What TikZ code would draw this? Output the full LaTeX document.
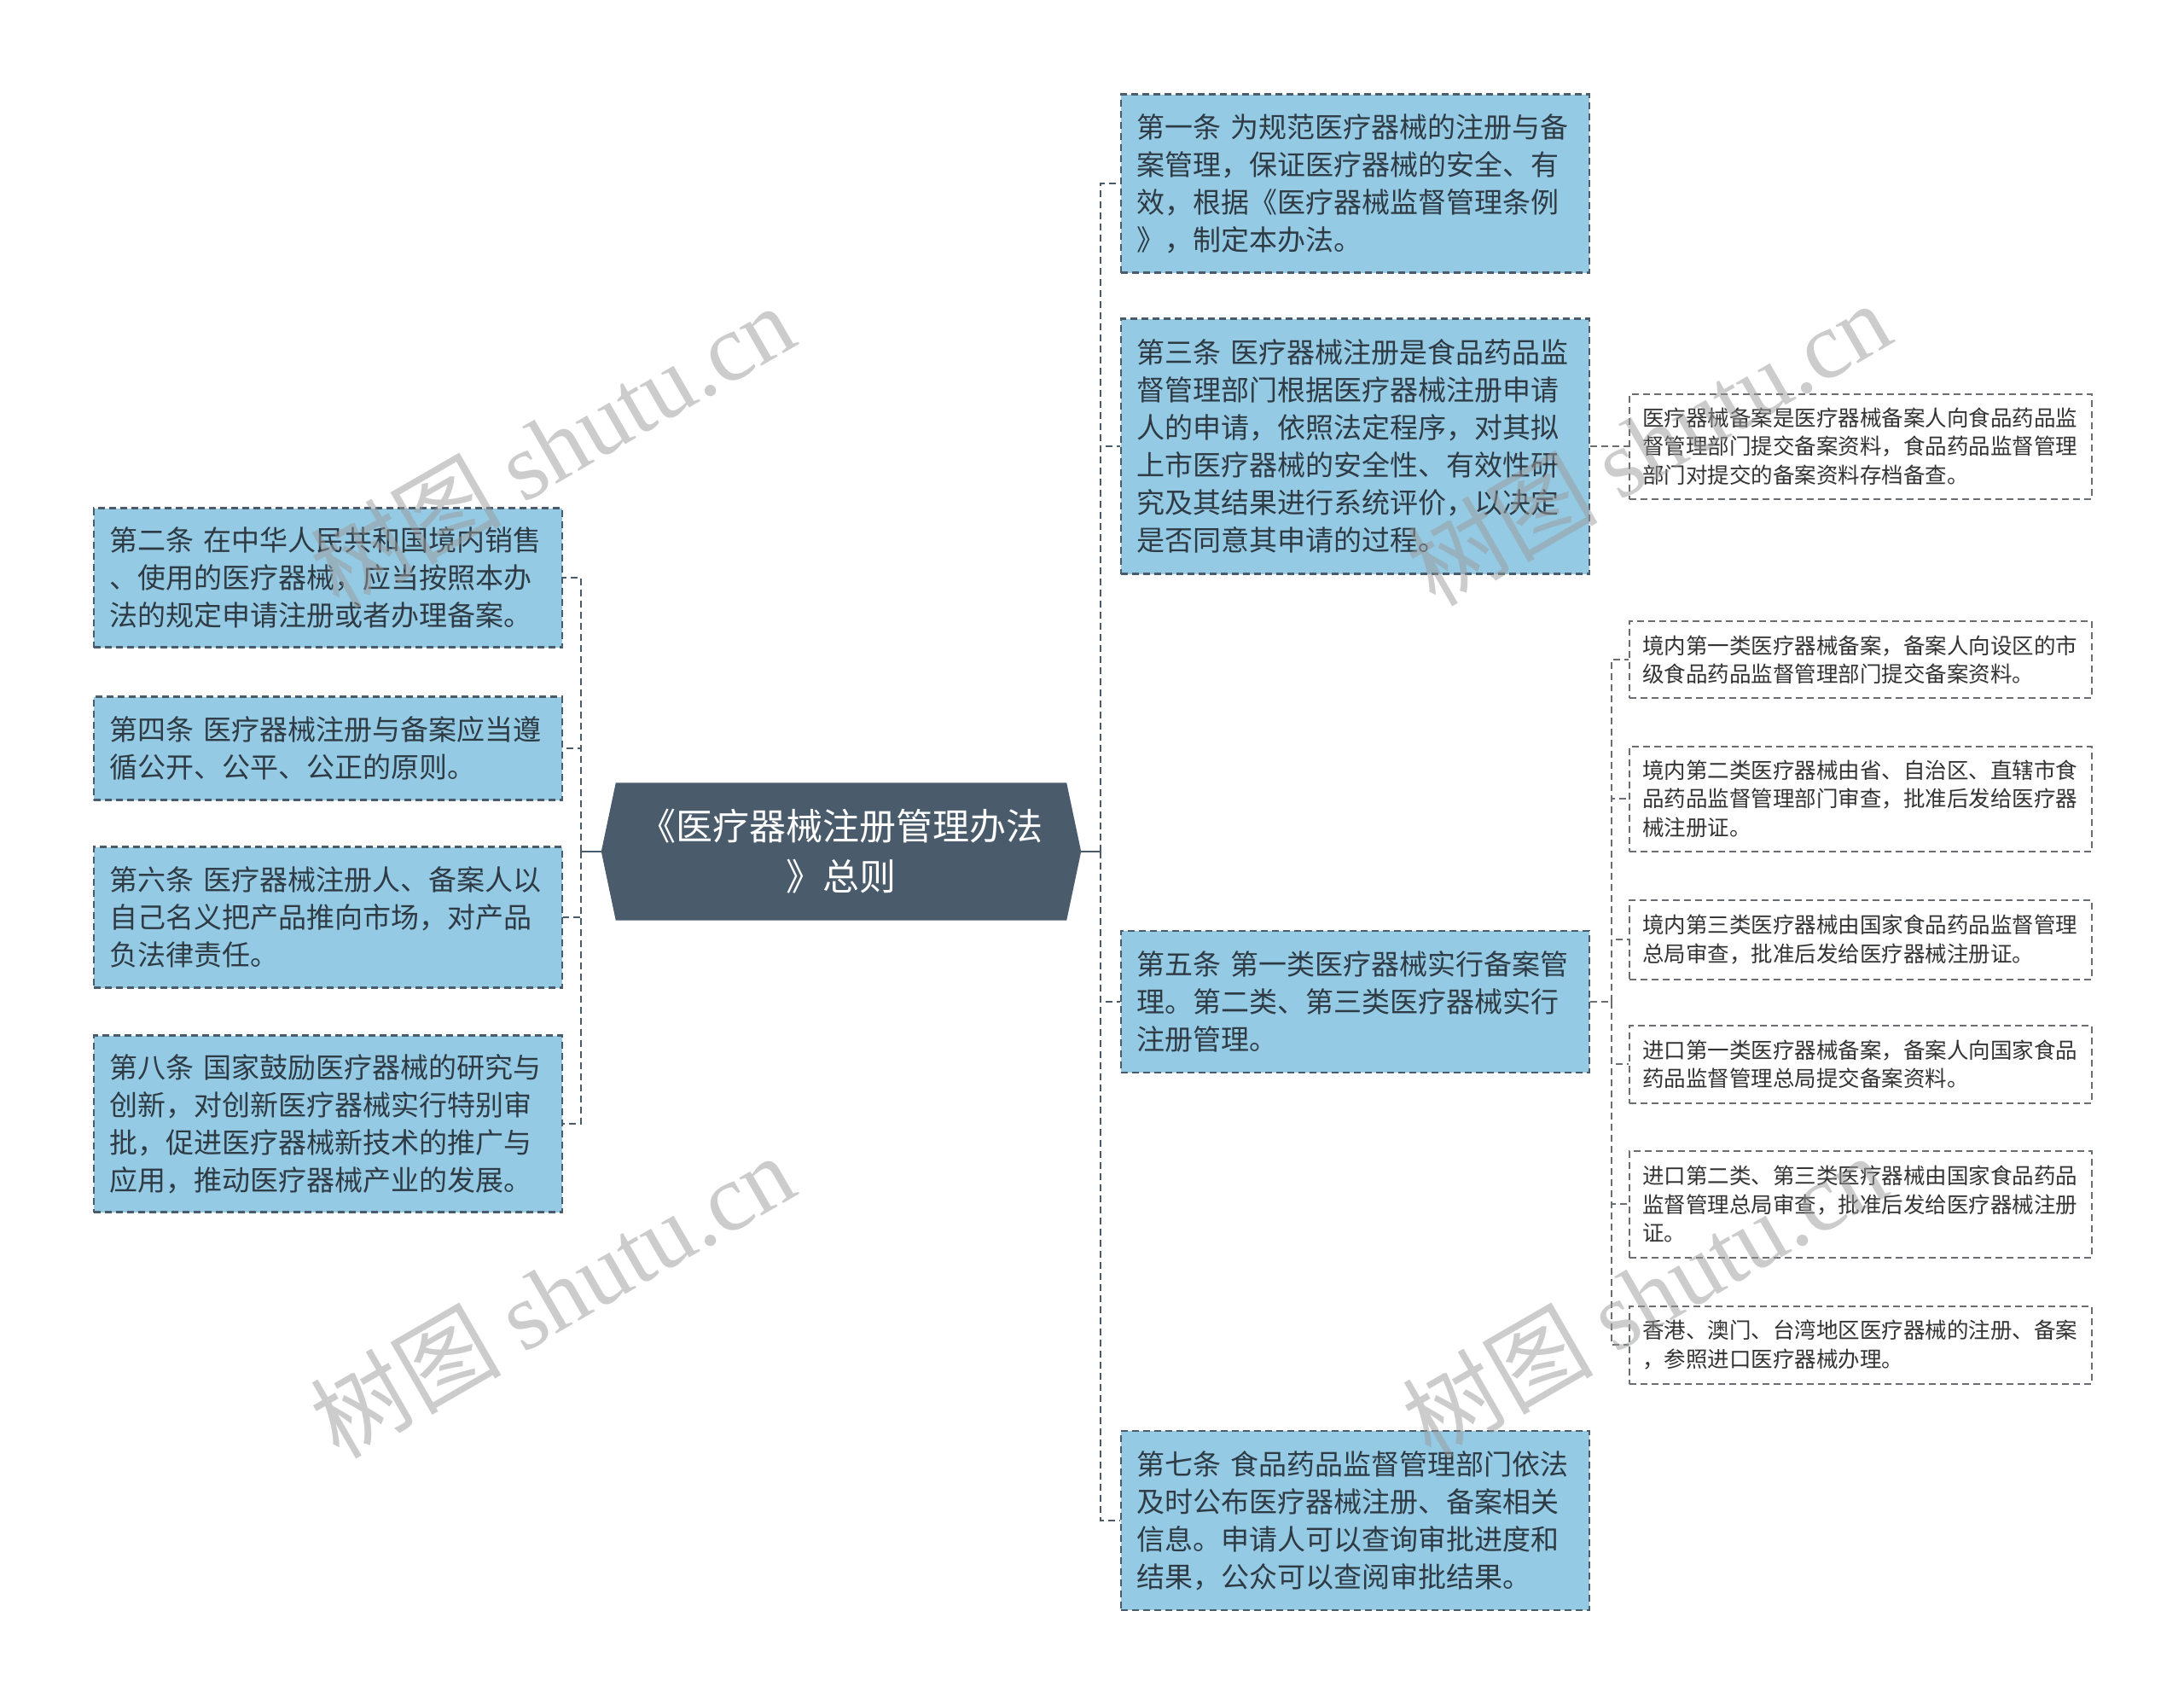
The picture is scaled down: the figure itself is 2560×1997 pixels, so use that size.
\documentclass[tikz,border=0pt]{standalone}
\usepackage{fontspec}
\setmainfont{Noto Sans CJK SC}
\newfontfamily\wmfont{Liberation Serif}
\usetikzlibrary{backgrounds}
\definecolor{boxfill}{HTML}{94CAE3}
\definecolor{slate}{HTML}{4A5B6B}
\definecolor{txt}{HTML}{2E3A44}
\definecolor{childline}{HTML}{6A6E72}
\definecolor{childtxt}{HTML}{333333}
\definecolor{wm}{HTML}{9A9A9A}
\tikzset{
  dsh/.style={dash pattern=on 8pt off 5pt},
  mainbox/.style={draw=slate, fill=boxfill, line width=2.4pt, dsh, anchor=west,
    minimum width=549pt, text width=513pt, inner xsep=18pt, inner ysep=0pt,
    align=left, text=txt, font=\fontsize{33}{44}\selectfont},
  childbox/.style={draw=childline, fill=white, line width=2pt, dsh, anchor=west,
    minimum width=542pt, text width=512pt, inner xsep=15pt, inner ysep=0pt,
    align=left, text=childtxt, font=\fontsize{25.5}{33.5}\selectfont},
  rootbox/.style={minimum width=562pt, minimum height=161pt, inner sep=0pt,
    align=center, text=white, font=\fontsize{43}{59}\selectfont},
  conn/.style={draw=slate, line width=2.4pt, dsh},
  childconn/.style={draw=childline, line width=2pt, dsh},
  stub/.style={draw=slate, line width=2.4pt},
  wmark/.style={rotate=30, text=wm, opacity=0.5, inner sep=0pt,
    font=\fontsize{112}{112}\selectfont}
}
\begin{document}
\begin{tikzpicture}[x=1pt, y=-1pt]
\useasboundingbox (0,0) rectangle (2560,1997);

% root
\node[rootbox] (root) at (986,998) {《医疗器械注册管理办法\\》总则};
\begin{scope}[on background layer]
\fill[white] (0,0) rectangle (2560,1997);
\fill[slate] ([xshift=17pt]root.north west) -- ([xshift=-17pt]root.north east)
  -- (root.east) -- ([xshift=-17pt]root.south east)
  -- ([xshift=17pt]root.south west) -- (root.west) -- cycle;
\end{scope}

% left boxes
\node[mainbox, minimum height=163pt] (l2) at (109,677) {第二条 在中华人民共和国境内销售\\、使用的医疗器械，应当按照本办\\法的规定申请注册或者办理备案。};
\node[mainbox, minimum height=121pt] (l4) at (109,877) {第四条 医疗器械注册与备案应当遵\\循公开、公平、公正的原则。};
\node[mainbox, minimum height=165pt] (l6) at (109,1075) {第六条 医疗器械注册人、备案人以\\自己名义把产品推向市场，对产品\\负法律责任。};
\node[mainbox, minimum height=207pt] (l8) at (109,1317) {第八条 国家鼓励医疗器械的研究与\\创新，对创新医疗器械实行特别审\\批，促进医疗器械新技术的推广与\\应用，推动医疗器械产业的发展。};

% right boxes
\node[mainbox, minimum height=209pt] (r1) at (1313,215) {第一条 为规范医疗器械的注册与备\\案管理，保证医疗器械的安全、有\\效，根据《医疗器械监督管理条例\\》，制定本办法。};
\node[mainbox, minimum height=299pt] (r3) at (1313,523) {第三条 医疗器械注册是食品药品监\\督管理部门根据医疗器械注册申请\\人的申请，依照法定程序，对其拟\\上市医疗器械的安全性、有效性研\\究及其结果进行系统评价，以决定\\是否同意其申请的过程。};
\node[mainbox, minimum height=166pt] (r5) at (1313,1174) {第五条 第一类医疗器械实行备案管\\理。第二类、第三类医疗器械实行\\注册管理。};
\node[mainbox, minimum height=210pt] (r7) at (1313,1782) {第七条 食品药品监督管理部门依法\\及时公布医疗器械注册、备案相关\\信息。申请人可以查询审批进度和\\结果，公众可以查阅审批结果。};

% children
\node[childbox, minimum height=123pt] (ch0) at (1909,523) {医疗器械备案是医疗器械备案人向食品药品监\\督管理部门提交备案资料，食品药品监督管理\\部门对提交的备案资料存档备查。};
\node[childbox, minimum height=90pt] (c1) at (1909,773) {境内第一类医疗器械备案，备案人向设区的市\\级食品药品监督管理部门提交备案资料。};
\node[childbox, minimum height=123pt] (c2) at (1909,936) {境内第二类医疗器械由省、自治区、直辖市食\\品药品监督管理部门审查，批准后发给医疗器\\械注册证。};
\node[childbox, minimum height=93pt] (c3) at (1909,1101) {境内第三类医疗器械由国家食品药品监督管理\\总局审查，批准后发给医疗器械注册证。};
\node[childbox, minimum height=91pt] (c4) at (1909,1247) {进口第一类医疗器械备案，备案人向国家食品\\药品监督管理总局提交备案资料。};
\node[childbox, minimum height=125pt] (c5) at (1909,1411) {进口第二类、第三类医疗器械由国家食品药品\\监督管理总局审查，批准后发给医疗器械注册\\证。};
\node[childbox, minimum height=91pt] (c6) at (1909,1576) {香港、澳门、台湾地区医疗器械的注册、备案\\，参照进口医疗器械办理。};

% connectors left
\draw[stub] (root.west) -- ++(-24,0) coordinate (lb);
\foreach \n in {l2,l4,l6,l8} \draw[conn] (lb) |- (\n.east);
% connectors right
\draw[stub] (root.east) -- ++(23,0) coordinate (rb);
\foreach \n in {r1,r3,r5,r7} \draw[conn] (rb) |- (\n.west);
% r3 -> child
\draw[childconn] (r3.east) -- (ch0.west);
% r5 -> children
\draw[childconn] (r5.east) -- ++(25,0) coordinate (sb);
\foreach \n in {c1,c2,c3,c4,c5,c6} \draw[childconn] (sb) |- (\n.west);

% watermarks
\node[wmark] (w1) at (647,522) {树图 {\wmfont shutu.cn}};
\node[wmark] (w2) at (647,1518) {树图 {\wmfont shutu.cn}};
\node[wmark] (w3) at (1932,519) {树图 {\wmfont shutu.cn}};
\node[wmark] (w4) at (1927,1518) {树图 {\wmfont shutu.cn}};
\end{tikzpicture}
\end{document}
